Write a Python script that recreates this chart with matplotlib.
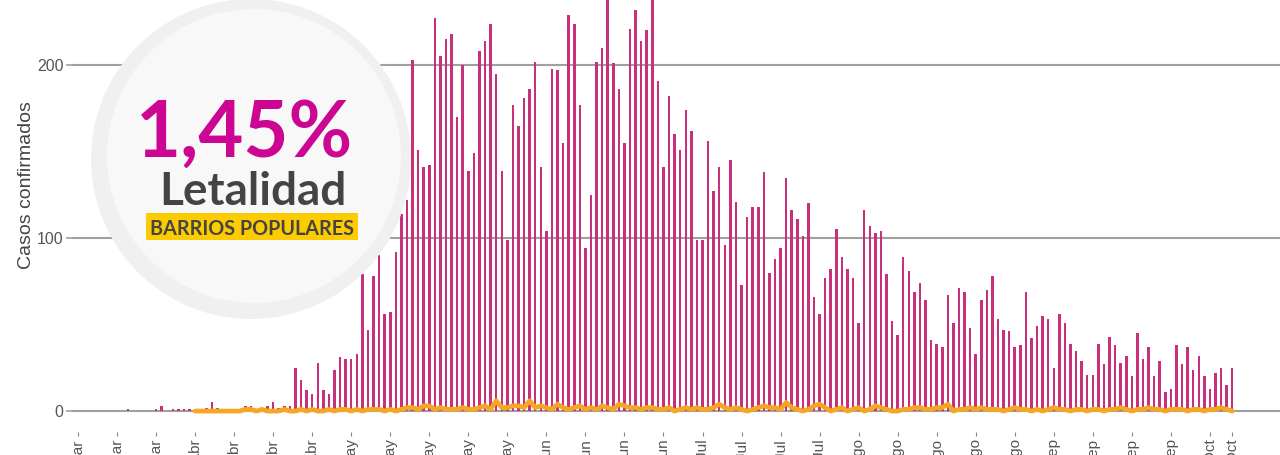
import matplotlib
matplotlib.use("Agg")
import matplotlib.pyplot as plt
import matplotlib.dates as mdates
from matplotlib.patches import Circle, Rectangle
import pandas as pd
import numpy as np

# ---------------- data ----------------
start_cases = "2020-03-14"
cases = [
    0, 0, 0, 0, 0, 0, 0, 0, 0,
    1,
    0, 0, 0, 0,
    1, 3, 0, 1, 1, 1, 1,
    1, 1, 2, 5, 2, 0, 0, 0, 0,
    3, 3, 0, 2, 3, 5, 2, 3, 3,
    25, 18, 12, 10, 28, 12, 10, 24, 31, 30, 30, 33,
    79, 47, 78, 90, 56, 57, 92, 114, 122, 203,
    151, 141, 142, 227, 205, 215, 218, 170, 200, 139,
    149, 208, 214, 224, 195, 139, 99, 177, 165, 181,
    186, 202, 141, 104, 198, 197, 155, 229, 224, 177,
    94, 125, 202, 210, 242, 201, 186, 155, 221, 232,
    214, 220, 246, 191, 141, 182, 160, 151, 174, 162,
    99, 99, 156, 127, 141, 96, 145, 121, 73, 112,
    118, 118, 138, 80, 88, 94, 135, 116, 111, 101,
    120, 66, 56, 77, 82, 105, 89, 82, 77, 51,
    116, 107, 103, 104, 79, 52, 44, 89, 81, 69,
    74, 64, 41, 39, 37, 67, 51, 71, 69, 48,
    33, 64, 70, 78, 53, 47, 46, 37, 38, 69,
    42, 49, 55, 53, 25, 56, 51, 39, 35, 29,
    21, 21, 39, 27, 43, 38, 28, 32, 20, 45,
    30, 37, 20, 29, 11, 13, 38, 27, 37, 24,
    32, 20, 13, 22, 25, 15, 25,
]

start_deaths = "2020-04-04"
deaths = [
    0, 0, 0, 0, 0, 0, 0, 0, 0, 1,
    1, 0, 1, 0, 0, 0, 1, 0, 0, 1,
    0, 1, 0, 0, 1, 0, 1, 1, 0, 1,
    0, 1, 1, 1, 0, 1, 0, 1, 2, 2,
    1, 3, 3, 1, 2, 1, 1, 1, 2, 1,
    1, 2, 3, 1, 6, 2, 2, 3, 3, 2,
    6, 2, 3, 2, 1, 4, 2, 1, 2, 3,
    1, 2, 1, 3, 2, 1, 4, 3, 2, 2,
    1, 2, 2, 1, 1, 2, 0, 1, 2, 1,
    2, 1, 1, 2, 4, 2, 1, 2, 1, 0,
    1, 2, 3, 2, 2, 1, 5, 2, 1, 0,
    1, 3, 4, 2, 0, 1, 2, 0, 1, 2,
    0, 1, 3, 2, 1, 0, 0, 1, 1, 2,
    2, 1, 1, 2, 2, 4, 0, 1, 1, 2,
    1, 2, 1, 1, 1, 0, 1, 2, 1, 1,
    0, 1, 0, 1, 2, 1, 1, 0, 1, 1,
    0, 1, 1, 0, 1, 1, 2, 1, 0, 1,
    1, 2, 1, 1, 0, 1, 1, 1, 0, 1,
    1, 0, 1, 1, 2, 1, 0,
]

tick_dates = [
    "2020-03-14", "2020-03-21", "2020-03-28",
    "2020-04-04", "2020-04-11", "2020-04-18", "2020-04-25",
    "2020-05-02", "2020-05-09", "2020-05-16", "2020-05-23", "2020-05-30",
    "2020-06-06", "2020-06-13", "2020-06-20", "2020-06-27",
    "2020-07-04", "2020-07-11", "2020-07-18", "2020-07-25",
    "2020-08-01", "2020-08-08", "2020-08-15", "2020-08-22", "2020-08-29",
    "2020-09-05", "2020-09-12", "2020-09-19", "2020-09-26",
    "2020-10-03", "2020-10-07",
]
tick_labels = [
    "14-Mar", "21-Mar", "28-Mar",
    "04-Abr", "11-Abr", "18-Abr", "25-Abr",
    "02-May", "09-May", "16-May", "23-May", "30-May",
    "06-Jun", "13-Jun", "20-Jun", "27-Jun",
    "04-Jul", "11-Jul", "18-Jul", "25-Jul",
    "01-Ago", "08-Ago", "15-Ago", "22-Ago", "29-Ago",
    "05-Sep", "12-Sep", "19-Sep", "26-Sep",
    "03-Oct", "07-Oct",
]
y_ticks = [0, 100, 200]

headline = "1,45%"
subtitle = "Letalidad"
badge = "BARRIOS POPULARES"
y_label = "Casos confirmados"

# ---------------- styles ----------------
BAR_C = "#c8307b"
LINE_C = "#f5a623"
GRID_C = "#a0a0a0"
TXT_C = "#555555"
MAGENTA = "#cc0592"
DARK = "#444444"
YELLOW = "#fccb00"

W, H = 1280, 455
fig = plt.figure(figsize=(W / 100, H / 100), dpi=100)
fig.patch.set_facecolor("white")

ax = fig.add_axes([72 / W, (H - 432) / H, 1 - 72 / W, 432 / H])
ax.set_facecolor("white")

case_dates = pd.date_range(start_cases, periods=len(cases), freq="D")
death_dates = pd.date_range(start_deaths, periods=len(deaths), freq="D")

for yv in y_ticks:
    ax.axhline(yv, color=GRID_C, lw=1.5, zorder=1)

ax.bar(case_dates, cases, width=0.45, color=BAR_C, zorder=2, linewidth=0)
ax.plot(death_dates, deaths, color=LINE_C, lw=3.4, zorder=3,
        solid_joinstyle="round", solid_capstyle="round")

x0 = mdates.date2num(pd.Timestamp(start_cases))
ax.set_xlim(x0 - 1.076, x0 + 215.57)
ax.set_ylim(-12.1, 237.6)

for s in ax.spines.values():
    s.set_visible(False)

ax.set_yticks(y_ticks)
ax.set_yticklabels([str(v) for v in y_ticks], fontsize=11.5, color=TXT_C,
                   family="Liberation Sans")
ax.tick_params(axis="y", length=4, width=1.2, color=GRID_C, pad=2)

ax.set_xticks([mdates.date2num(pd.Timestamp(d)) for d in tick_dates])
ax.set_xticklabels(tick_labels, rotation=90, fontsize=11, color=TXT_C,
                   family="Liberation Sans", va="top", ha="center")
ax.tick_params(axis="x", length=3, width=0.8, color="#888888", pad=1.5)

fig.text(27 / W, 1 - 185 / H, y_label, rotation=90, ha="center", va="center",
         fontsize=14, color=DARK, family="Liberation Sans")

# ---------------- overlay badge ----------------
ov = fig.add_axes([0, 0, 1, 1], zorder=5)
ov.set_xlim(0, W)
ov.set_ylim(H, 0)
ov.axis("off")
ov.patch.set_alpha(0)

ov.add_patch(Circle((251, 159), 160, facecolor="#f0f0f0", edgecolor="none"))
ov.add_patch(Circle((254, 156), 147, facecolor="#f8f8f8", edgecolor="none"))

ov.text(245, 157, headline, ha="center", va="baseline", fontsize=56,
        fontweight="bold", color=MAGENTA, family="Lato")
ov.text(253, 205, subtitle, ha="center", va="baseline", fontsize=33,
        fontweight="bold", color=DARK, family="Lato")
ov.add_patch(Rectangle((146, 213), 212, 27, facecolor=YELLOW, edgecolor="none"))
ov.text(252, 235, badge, ha="center", va="baseline", fontsize=14.2,
        fontweight="bold", color=DARK, family="Lato")

fig.savefig("out.png", dpi=100, facecolor="white")
